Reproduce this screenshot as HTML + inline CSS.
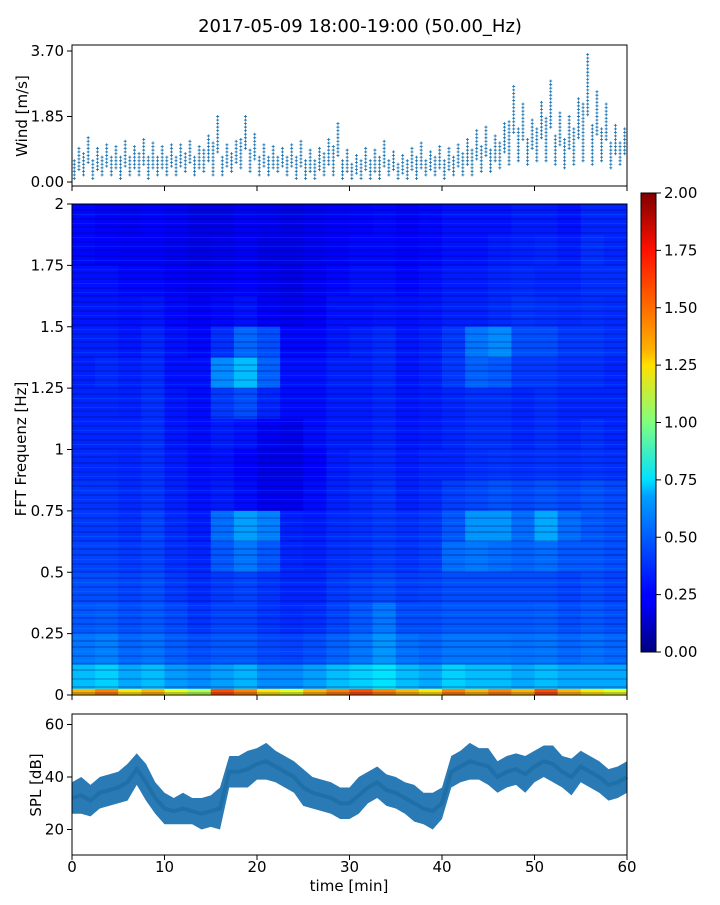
<!DOCTYPE html>
<html><head><meta charset="utf-8"><style>
html,body{margin:0;padding:0;background:#fff;}
svg text{font-family:"DejaVu Sans","Liberation Sans",sans-serif;fill:#000;}
</style></head><body>
<svg id="chart" width="720" height="900" xmlns="http://www.w3.org/2000/svg">
<defs>
<pattern id="streaks" width="556" height="23" patternUnits="userSpaceOnUse">
<rect x="0" y="2" width="556" height="2" fill="rgba(0,0,90,0.22)"/>
<rect x="0" y="7" width="556" height="1" fill="rgba(0,200,255,0.15)"/>
<rect x="0" y="11" width="556" height="2" fill="rgba(0,0,90,0.18)"/>
<rect x="0" y="16" width="556" height="1" fill="rgba(0,200,255,0.12)"/>
<rect x="0" y="19" width="556" height="2" fill="rgba(0,0,90,0.2)"/>
</pattern>
<linearGradient id="jetgrad" x1="0" y1="1" x2="0" y2="0">
<stop offset="0" stop-color="#00007f"/><stop offset="0.11" stop-color="#0000ff"/>
<stop offset="0.125" stop-color="#0000ff"/><stop offset="0.34" stop-color="#00a0ff"/>
<stop offset="0.375" stop-color="#00e0ff"/><stop offset="0.5" stop-color="#7fff7f"/>
<stop offset="0.625" stop-color="#ffe000"/><stop offset="0.66" stop-color="#ffb000"/>
<stop offset="0.875" stop-color="#ff1000"/><stop offset="1" stop-color="#7f0000"/>
</linearGradient>
</defs>
<text x="360" y="32" font-size="18" text-anchor="middle">2017-05-09 18:00-19:00 (50.00_Hz)</text>
<g id="wind"></g>
<g id="spec"></g>
<g id="spl"></g>
<g id="cbar"></g>
</svg>
<script>
// ---------- data ----------
const windMinutes = [0,1,2,3,4,5,6,7,8,9,10,11,12,13,14,15,16,17,18,19,20,21,22,23,24,25,26,27,28,29,30,31,32,33,34,35,36,37,38,39,40,41,42,43,44,45,46,47,48,49,50,51,52,53,54,55,56,57,58,59];
const windMin = [0.1,0.2,0.1,0.2,0.2,0.1,0.2,0.2,0.1,0.2,0.2,0.2,0.3,0.2,0.3,0.2,0.2,0.3,0.4,0.3,0.2,0.2,0.3,0.2,0.1,0.1,0.1,0.2,0.2,0.1,0.1,0.1,0.1,0.1,0.2,0.1,0.1,0.1,0.2,0.2,0.1,0.2,0.2,0.2,0.3,0.3,0.4,0.5,0.6,0.5,0.6,0.6,0.5,0.4,0.5,0.6,0.5,0.6,0.4,0.5];
const windMax = [1.0,1.3,1.0,1.1,1.0,1.2,1.0,1.2,1.1,1.0,1.1,1.1,1.2,1.0,1.3,1.9,1.1,1.2,1.9,1.4,1.1,1.0,1.0,1.1,1.2,0.9,1.0,1.2,1.7,0.9,0.8,1.0,0.9,1.2,0.9,0.8,1.0,1.1,0.9,1.0,1.0,1.1,1.2,1.5,1.6,1.3,1.7,2.7,2.2,1.8,2.3,2.9,2.0,1.9,2.4,3.6,2.6,2.2,1.6,1.5];

const specCols = [0,2.5,5,7.5,10,12.5,15,17.5,20,22.5,25,27.5,30,32.5,35,37.5,40,42.5,45,47.5,50,52.5,55,57.5];
const specRowsHz = [1.875,1.75,1.625,1.5,1.375,1.25,1.125,1.0,0.875,0.75,0.625,0.5,0.375,0.25,0.125,0];
const specValues = [
[.26,.24,.23,.25,.23,.20,.20,.23,.22,.20,.22,.24,.25,.26,.24,.26,.28,.28,.28,.30,.30,.28,.32,.32],
[.26,.25,.24,.24,.22,.20,.21,.23,.20,.20,.22,.24,.26,.26,.25,.26,.28,.28,.30,.31,.32,.30,.34,.32],
[.28,.28,.26,.26,.24,.22,.23,.25,.22,.20,.23,.26,.28,.28,.26,.28,.30,.30,.32,.33,.32,.32,.34,.34],
[.29,.29,.28,.29,.26,.24,.26,.28,.24,.22,.24,.28,.28,.29,.28,.29,.31,.31,.33,.35,.34,.33,.34,.33],
[.31,.31,.29,.32,.28,.26,.34,.45,.40,.26,.26,.29,.31,.33,.29,.31,.36,.48,.52,.40,.40,.36,.36,.34],
[.31,.33,.31,.33,.28,.28,.52,.62,.44,.28,.28,.31,.31,.33,.29,.31,.36,.44,.42,.36,.36,.34,.34,.32],
[.32,.32,.31,.34,.29,.27,.36,.40,.32,.27,.27,.30,.30,.32,.29,.30,.32,.34,.34,.32,.34,.32,.32,.32],
[.32,.32,.32,.34,.29,.27,.30,.28,.23,.21,.27,.30,.30,.32,.29,.30,.32,.34,.34,.32,.34,.32,.34,.32],
[.33,.33,.32,.34,.30,.27,.28,.25,.20,.20,.25,.30,.32,.33,.30,.32,.32,.34,.35,.34,.35,.34,.35,.34],
[.35,.35,.33,.35,.31,.28,.30,.27,.22,.22,.27,.31,.33,.35,.31,.33,.37,.39,.41,.39,.41,.39,.41,.39],
[.36,.36,.34,.38,.33,.30,.46,.56,.50,.31,.30,.33,.34,.36,.34,.36,.42,.54,.54,.46,.58,.46,.42,.40],
[.38,.38,.36,.38,.34,.32,.42,.48,.42,.32,.31,.34,.35,.37,.35,.37,.46,.48,.46,.44,.46,.42,.42,.40],
[.40,.40,.38,.40,.36,.33,.36,.38,.35,.32,.32,.36,.38,.40,.37,.38,.40,.40,.40,.40,.40,.38,.40,.38],
[.42,.43,.40,.42,.39,.35,.38,.38,.35,.33,.34,.38,.42,.48,.40,.40,.42,.42,.42,.42,.43,.40,.42,.40],
[.48,.50,.45,.47,.43,.40,.42,.42,.39,.38,.40,.44,.48,.54,.47,.45,.48,.48,.48,.47,.48,.45,.47,.45],
[.62,.66,.58,.62,.55,.52,.56,.60,.52,.52,.56,.62,.66,.70,.62,.58,.66,.62,.62,.58,.62,.58,.58,.58]];
const specBottom = [1.4,1.5,1.3,1.4,1.2,1.1,1.6,1.5,1.3,1.2,1.4,1.5,1.6,1.5,1.4,1.3,1.5,1.4,1.5,1.4,1.6,1.4,1.3,1.2];

const splMinutes = [0,1,2,3,4,5,6,7,8,9,10,11,12,13,14,15,16,17,18,19,20,21,22,23,24,25,26,27,28,29,30,31,32,33,34,35,36,37,38,39,40,41,42,43,44,45,46,47,48,49,50,51,52,53,54,55,56,57,58,59,60];
const splMean = [32,33,31,34,35,36,38,43,38,32,28,27,28,27,26,27,28,42,42,43,45,46,44,42,40,36,34,33,32,30,30,33,36,38,35,34,32,30,28,27,30,42,44,46,45,44,40,42,43,41,44,46,45,42,40,44,42,40,37,38,40];
const splHalf = [6,7,6,6,6,6,7,6,7,6,6,5,6,5,6,6,8,6,6,7,6,7,6,6,6,7,6,6,6,6,6,7,6,6,6,6,6,7,6,7,6,6,6,7,6,7,6,6,6,7,6,6,7,6,7,6,6,6,6,6,6];

const xTicks = [0,10,20,30,40,50,60];
const windTicks = ["0.00","1.85","3.70"];
const freqTicks = ["0","0.25","0.5","0.75","1","1.25","1.5","1.75","2"];
const splTicks = [20,40,60];
const cbarTicks = ["0.00","0.25","0.50","0.75","1.00","1.25","1.50","1.75","2.00"];

// ---------- helpers ----------
const NS='http://www.w3.org/2000/svg';
function mk(tag,attrs,parent){const e=document.createElementNS(NS,tag);for(const k in attrs)e.setAttribute(k,attrs[k]);parent.appendChild(e);return e;}
const X0=72,X1=627;
const xs=t=>X0+(t/60)*(X1-X0);
function jet(v){let x=Math.max(0,Math.min(1,v/2));
 const r=Math.max(0,Math.min(1,1.5-Math.abs(4*x-3))),g=Math.max(0,Math.min(1,1.5-Math.abs(4*x-2))),b=Math.max(0,Math.min(1,1.5-Math.abs(4*x-1)));
 return `rgb(${Math.round(r*255)},${Math.round(g*255)},${Math.round(b*255)})`;}
function axisFrame(g,y0,y1,name){const r=mk('rect',{x:X0,y:y0,width:X1-X0,height:y1-y0,fill:'none',stroke:'#000','stroke-width':1},g);}
function xTickMarks(g,y,labels){xTicks.forEach(t=>{const l=mk('line',{x1:xs(t),x2:xs(t),y1:y,y2:y+5,stroke:'#000'},g);
 if(labels){const tx=mk('text',{x:xs(t),y:y+17,'font-size':15,'text-anchor':'middle'},g);tx.textContent=t;}});}

// ---------- wind ----------
const gw=document.getElementById('wind');
const WY0=45,WY1=186;const wy=v=>182-(v/3.7)*(182-51);
windMinutes.forEach((m,i)=>{
 const mid=(windMin[i]+windMax[i])/2;
 [[0.25,windMin[i],mid+0.1],[0.75,mid-0.2,windMax[i]]].forEach(([off,lo,hi])=>{
  for(let v=lo;v<=hi+1e-6;v+=0.1){
   const cx=xs(m+off),cy=wy(v);
   const p=mk('path',{d:`M${cx-1.5} ${cy}h3M${cx} ${cy-1.5}v3`,stroke:'#1f77b4','stroke-width':0.9},gw);
   
  }});});
axisFrame(gw,WY0,WY1,'wind-axes-frame');
xTickMarks(gw,WY1,false);
windTicks.forEach(s=>{const y=wy(parseFloat(s));mk('line',{x1:X0-5,x2:X0,y1:y,y2:y,stroke:'#000'},gw);
 const t=mk('text',{x:X0-8,y:y+5,'font-size':15,'text-anchor':'end'},gw);t.textContent=s;});
{const t=mk('text',{x:27,y:116,'font-size':15,'text-anchor':'middle',transform:'rotate(-90 27 116)'},gw);t.textContent='Wind [m/s]';}

// ---------- spectrogram ----------
const gs=document.getElementById('spec');
const SY0=204,SY1=695;const fy=f=>SY1-(f/2)*(SY1-SY0);
specRowsHz.forEach((f,r)=>{specCols.forEach((c,ci)=>{
 const x=xs(c),w=xs(c+2.5)-x+0.5,y=fy(f+0.125),h=fy(f)-y+0.5;
 const e=mk('rect',{x:x,y:y,width:w,height:h,fill:jet(specValues[r][ci])},gs);
 });});
specCols.forEach((c,ci)=>{const x=xs(c),w=xs(c+2.5)-x+0.5,y=fy(0.025);
 const e=mk('rect',{x:x,y:y,width:w,height:SY1-y,fill:jet(specBottom[ci])},gs);
 });
{const o=mk('rect',{x:X0,y:SY0,width:X1-X0,height:SY1-SY0,fill:'url(#streaks)'},gs);}
axisFrame(gs,SY0,SY1,'spectrogram-axes-frame');
xTickMarks(gs,SY1,false);
freqTicks.forEach(s=>{const y=fy(parseFloat(s));mk('line',{x1:X0-5,x2:X0,y1:y,y2:y,stroke:'#000'},gs);
 const t=mk('text',{x:X0-8,y:y+5,'font-size':15,'text-anchor':'end'},gs);t.textContent=s;});
{const t=mk('text',{x:26,y:449,'font-size':15,'text-anchor':'middle',transform:'rotate(-90 26 449)'},gs);t.textContent='FFT Frequenz [Hz]';}

// ---------- colorbar ----------
const gc=document.getElementById('cbar');
const CY0=193,CY1=652;
{const r=mk('rect',{x:641,y:CY0,width:15,height:CY1-CY0,fill:'url(#jetgrad)',stroke:'#000','stroke-width':1},gc);}
cbarTicks.forEach(s=>{const y=CY1-(parseFloat(s)/2)*(CY1-CY0);mk('line',{x1:656,x2:661,y1:y,y2:y,stroke:'#000'},gc);
 const t=mk('text',{x:664,y:y+5,'font-size':15},gc);t.textContent=s;});

// ---------- SPL ----------
const gp=document.getElementById('spl');
const PY0=714,PY1=855;const py=v=>777-(v-40)*(52.5/20);
let up=splMinutes.map((m,i)=>`${xs(m)},${py(splMean[i]+splHalf[i])}`);
let dn=splMinutes.map((m,i)=>`${xs(m)},${py(splMean[i]-splHalf[i])}`).reverse();
{const b=mk('polygon',{points:up.concat(dn).join(' '),fill:'#2a7ab5'},gp);}
{const l=mk('polyline',{points:splMinutes.map((m,i)=>`${xs(m)},${py(splMean[i])}`).join(' '),fill:'none',stroke:'#1f70a8','stroke-width':4},gp);}
axisFrame(gp,PY0,PY1,'spl-axes-frame');
xTickMarks(gp,PY1,true);
splTicks.forEach(v=>{const y=py(v);mk('line',{x1:X0-5,x2:X0,y1:y,y2:y,stroke:'#000'},gp);
 const t=mk('text',{x:X0-8,y:y+5,'font-size':15,'text-anchor':'end'},gp);t.textContent=v;});
{const t=mk('text',{x:41,y:785,'font-size':15,'text-anchor':'middle',transform:'rotate(-90 41 785)'},gp);t.textContent='SPL [dB]';}
{const t=mk('text',{x:349,y:891,'font-size':15,'text-anchor':'middle'},gp);t.textContent='time [min]';}
</script>
</body></html>
